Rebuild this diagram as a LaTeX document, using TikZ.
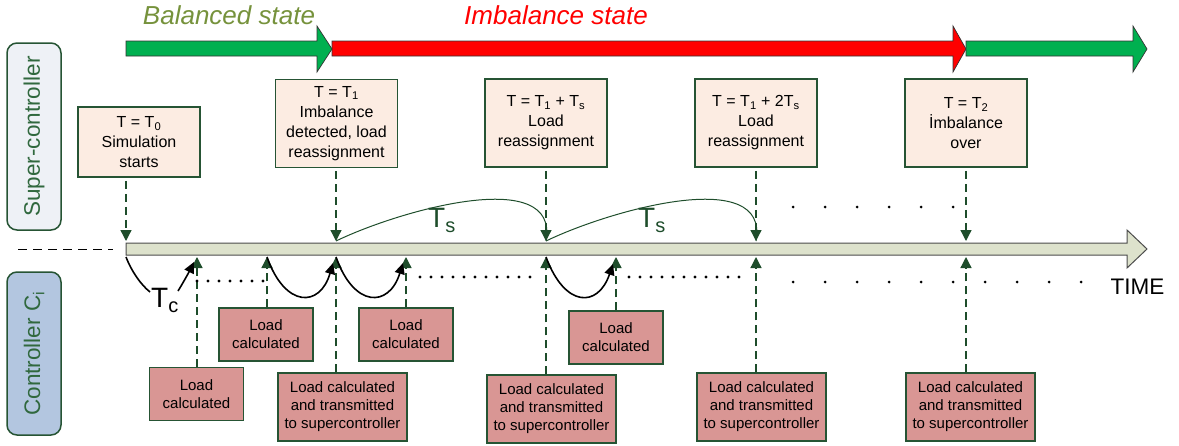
\documentclass[tikz,border=0pt]{standalone}
\usepackage{fontspec}
\setmainfont{Liberation Sans}
\usetikzlibrary{arrows.meta}

\definecolor{edgegreen}{RGB}{38,84,52}
\definecolor{dashgreen}{RGB}{30,77,43}
\definecolor{labelgreen}{RGB}{48,104,62}
\definecolor{olive}{RGB}{118,146,60}
\definecolor{peach}{RGB}{252,236,226}
\definecolor{rose}{RGB}{217,150,148}
\definecolor{paleblue}{RGB}{238,241,246}
\definecolor{steelblue}{RGB}{179,198,224}
\definecolor{barfill}{RGB}{221,226,204}
\definecolor{stategreen}{RGB}{0,176,80}
\definecolor{statered}{RGB}{255,0,0}

\begin{document}
\begin{tikzpicture}[x=1pt,y=-1pt,
  superbox/.style={draw=edgegreen, line width=1.5pt, fill=peach, align=center,
    inner sep=0pt, minimum width=122pt, minimum height=88pt,
    font=\fontsize{16}{20}\selectfont},
  ctrlbox/.style={draw=edgegreen, line width=1.5pt, fill=rose, align=center,
    inner sep=0pt, minimum width=94pt, minimum height=53pt,
    font=\fontsize{15}{18}\selectfont},
  widebox/.style={ctrlbox, minimum width=129pt, minimum height=68pt},
  lanebox/.style={draw=edgegreen, line width=1.5pt, rounded corners=10pt,
    rotate=90, inner sep=0pt, minimum height=54pt, text=labelgreen,
    font=\fontsize{22.5}{24}\selectfont},
  dasharrow/.style={draw=dashgreen, line width=1.3pt, dash pattern=on 8pt off 5pt,
    -{Triangle[length=11pt,width=11pt,fill=dashgreen]}},
  tsarc/.style={draw=dashgreen, line width=1pt},
  tcarc/.style={draw=black, line width=1.6pt},
  tcarrow/.style={tcarc, -{Triangle[length=11pt,width=10pt]}},
  statearrow/.style={draw=black!80, line width=0.7pt},
  statelabel/.style={font=\fontsize{26}{30}\selectfont\itshape},
  dot/.style={fill=black}
]
\useasboundingbox (0,0) rectangle (1179,445);

% lane labels
\node[lanebox, fill=paleblue, minimum width=187pt] (super) at (34,136.5) {Super-controller};
\node[lanebox, fill=steelblue, minimum width=163pt] (ctrl) at (34,353.5) {Controller C\textsubscript{i}};
\draw[black, line width=1pt, dash pattern=on 9pt off 6pt] (18,249) -- (113,249);

% state arrows
\draw[statearrow, fill=statered] (332,41) -- (953,41) -- (953,26) -- (966,49) -- (953,72) -- (953,56) -- (332,56) -- cycle;
\draw[statearrow, fill=stategreen] (126,41) -- (317,41) -- (317,26) -- (332,49) -- (317,72) -- (317,56) -- (126,56) -- cycle;
\draw[statearrow, fill=stategreen] (966,41) -- (1133,41) -- (1133,26) -- (1147,49) -- (1133,72) -- (1133,56) -- (966,56) -- cycle;
\node[statelabel, text=olive] (balanced) at (229,15) {Balanced state};
\node[statelabel, text=statered] (imbalance) at (556,15) {Imbalance state};

% time axis
\draw[draw=black!70, line width=1pt, fill=barfill]
  (126,243) -- (1127,243) -- (1127,230) -- (1147,249) -- (1127,268) -- (1127,255) -- (126,255) -- cycle;
\node[anchor=base west, font=\fontsize{22.5}{24}\selectfont] (time) at (1107,294) {TIME};

% points on the axis: u = upper edge, d = lower edge
\foreach \n/\x in {0/126, 1/336, 2/546, 3/756, 4/966, a/197, b/267, c/406, d/616}{
  \coordinate (u\n) at (\x,241);
  \coordinate (d\n) at (\x,257);
}

% super-controller events
\node[superbox, minimum height=70pt] (s0) at (139,142) {T = T\textsubscript{0}\\Simulation\\starts};
\node[superbox] (s1) at (336.5,123.5) {T = T\textsubscript{1}\\Imbalance\\detected, load\\reassignment};
\node[superbox] (s2) at (546,123) {T = T\textsubscript{1} + T\textsubscript{s}\\Load\\reassignment};
\node[superbox] (s3) at (756,123) {T = T\textsubscript{1} + 2T\textsubscript{s}\\Load\\reassignment};
\node[superbox] (s4) at (966,123) {T = T\textsubscript{2}\\İmbalance\\over};

\foreach \i in {0,...,4}{
  \draw[dasharrow] (s\i.south -| u\i) ++(0,3) -- (u\i);
}

% reassignment period
\draw[tsarc] (u1) .. controls (400,210) and (560,165) .. (u2);
\draw[tsarc] (u2) .. controls (610,210) and (770,165) .. (u3);
\node[anchor=base west, text=dashgreen, inner sep=0pt] (ts1) at (428,227)
  {\fontsize{28}{28}\selectfont T\raisebox{-5pt}{\fontsize{20}{20}\selectfont s}};
\node[anchor=base west, text=dashgreen, inner sep=0pt] (ts2) at (638,227)
  {\fontsize{28}{28}\selectfont T\raisebox{-5pt}{\fontsize{20}{20}\selectfont s}};

% controller events
\node[ctrlbox] (ca) at (196.5,394) {Load\\calculated};
\node[ctrlbox] (cb) at (266,334.5) {Load\\calculated};
\node[widebox] (c1) at (342.5,407) {Load calculated\\and transmitted\\to supercontroller};
\node[ctrlbox] (cc) at (406,334.5) {Load\\calculated};
\node[widebox] (c2) at (551.5,409) {Load calculated\\and transmitted\\to supercontroller};
\node[ctrlbox] (cd) at (616,337.5) {Load\\calculated};
\node[widebox] (c3) at (761.5,407) {Load calculated\\and transmitted\\to supercontroller};
\node[widebox] (c4) at (970.5,407) {Load calculated\\and transmitted\\to supercontroller};

\foreach \b/\p in {ca/a, cb/b, c1/1, cc/c, c2/2, cd/d, c3/3, c4/4}{
  \draw[dasharrow] (\b.north -| d\p) -- (d\p);
}

% controller period
\coordinate (tcin) at (150,292);
\coordinate (tcout) at (178,291);
\draw[tcarc] (d0) .. controls (131,270) and (140,284) .. (tcin);
\draw[tcarrow] (tcout) .. controls (183,283) and (189,272) .. (194,262);
\node[anchor=base west, inner sep=0pt] (tc) at (151,307)
  {\fontsize{28}{28}\selectfont T\raisebox{-5pt}{\fontsize{20}{20}\selectfont c}};
\draw[tcarrow] (db) .. controls (285,308) and (320,308) .. (333,263);
\draw[tcarrow] (d1) .. controls (354,308) and (389,308) .. (403,263);
\draw[tcarrow] (d2) .. controls (565,308) and (598,308) .. (613,264);

% waiting periods
\foreach \x in {197,208,...,264} \fill[dot] (\x,281) circle (1.6);
\foreach \x in {420,431,...,531} \fill[dot] (\x,277) circle (1.6);
\foreach \x in {629,640,...,740} \fill[dot] (\x,277) circle (1.6);
\foreach \x in {793,825,...,1084} \fill[dot] (\x,282) circle (1.5);
\foreach \x in {793,825,...,955} \fill[dot] (\x,207) circle (1.5);
\end{tikzpicture}
\end{document}
